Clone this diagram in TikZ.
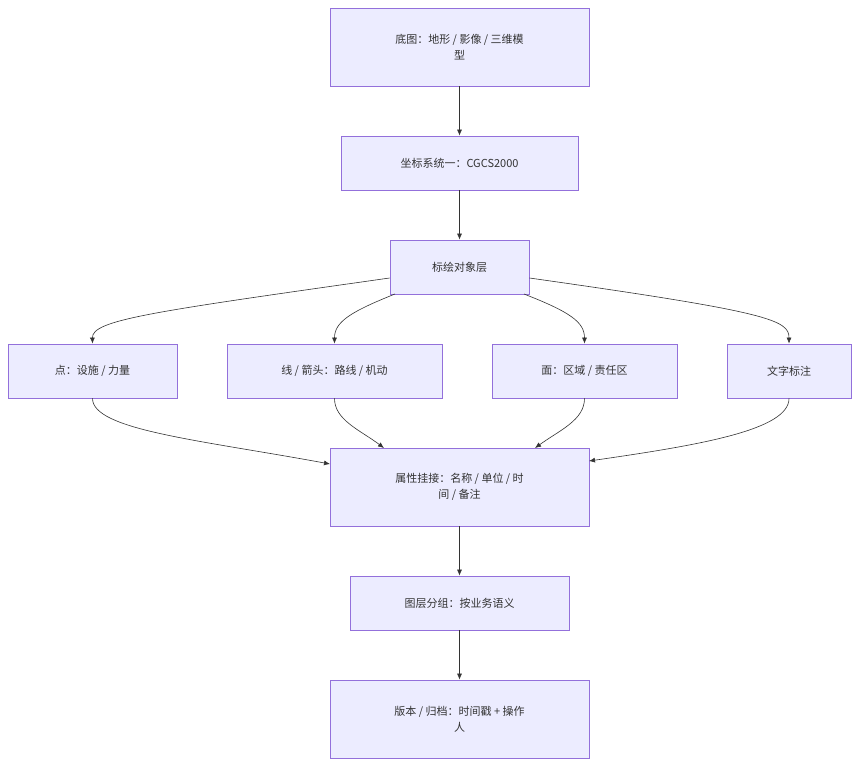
\documentclass[tikz,border=0pt]{standalone}
\usepackage{fontspec}
\setmainfont{Noto Sans CJK SC}
\usetikzlibrary{arrows.meta}
\definecolor{boxfill}{HTML}{ECECFF}
\definecolor{boxline}{HTML}{9370DB}
\definecolor{edge}{HTML}{333333}
\begin{document}
\begin{tikzpicture}[x=1pt, y=-1pt,
    box/.style={draw=boxline, fill=boxfill, line width=0.8pt, align=center,
        font=\fontsize{11}{16}\selectfont, text=edge, inner sep=0pt},
    flow/.style={draw=edge, line width=0.6pt, -{Latex[length=6pt,width=5pt]}}]

    \useasboundingbox (0,0) rectangle (859,766);

    % main column
    \node[box, minimum width=259, minimum height=78] (base) at (459.5,47)
        {底图：地形 / 影像 / 三维模\\型};
    \node[box, minimum width=237, minimum height=54] (crs) at (459.5,163)
        {坐标系统一：CGCS2000};
    \node[box, minimum width=139, minimum height=54] (layer) at (459.5,267)
        {标绘对象层};

    % object types
    \node[box, minimum width=169, minimum height=54] (point) at (92.5,371)
        {点：设施 / 力量};
    \node[box, minimum width=215, minimum height=54] (line) at (334.5,371)
        {线 / 箭头：路线 / 机动};
    \node[box, minimum width=185, minimum height=54] (area) at (584.5,371)
        {面：区域 / 责任区};
    \node[box, minimum width=124, minimum height=54] (label) at (789,371)
        {文字标注};

    \node[box, minimum width=259, minimum height=78] (attr) at (459.5,487)
        {属性挂接：名称 / 单位 / 时\\间 / 备注};
    \node[box, minimum width=219, minimum height=54] (group) at (459.5,603)
        {图层分组：按业务语义};
    \node[box, minimum width=259, minimum height=78] (version) at (459.5,719)
        {版本 / 归档：时间戳 + 操作\\人};

    % connectors
    \draw[flow] (base) -- (crs);
    \draw[flow] (crs) -- (layer);
    \draw[flow] (layer.west |- 0,278) .. controls (150,312) and (92,320) .. (point.north);
    \draw[flow] (395,294) .. controls (350,312) and (334.5,322) .. (line.north);
    \draw[flow] (524,294) .. controls (570,312) and (584.5,322) .. (area.north);
    \draw[flow] (layer.east |- 0,278) .. controls (770,312) and (789,320) .. (label.north);
    \draw[flow] (point.south) .. controls (92.5,430) and (200,440) .. (330,464);
    \draw[flow] (line.south) .. controls (334.5,420) and (360,430) .. (384,448);
    \draw[flow] (area.south) .. controls (584.5,420) and (560,430) .. (535,448);
    \draw[flow] (label.south) .. controls (789,430) and (700,445) .. (589,461);
    \draw[flow] (attr) -- (group);
    \draw[flow] (group) -- (version);
\end{tikzpicture}
\end{document}
